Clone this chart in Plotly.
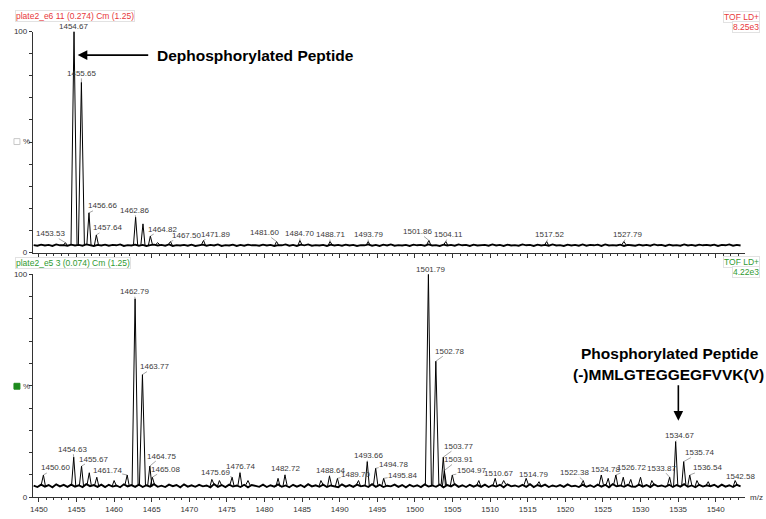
import plotly.graph_objects as go

# ---------------- data ----------------
# Centroided peaks (m/z, relative intensity %) for each acquisition
top_mz = [1453.53, 1454.67, 1455.65, 1456.66, 1457.64, 1462.86, 1463.84, 1464.82,
          1465.80, 1467.50, 1471.89, 1481.60, 1484.70, 1488.71, 1493.79, 1501.86,
          1504.11, 1517.52, 1527.79]
top_int = [4.5, 100, 77, 18, 8, 16, 13, 7.5,
           4.5, 5, 5.5, 5, 5.5, 5, 5, 5.5,
           5, 5, 5]
top_labeled = [1453.53, 1454.67, 1455.65, 1456.66, 1457.64, 1462.86, 1464.82, 1467.50,
               1471.89, 1481.60, 1484.70, 1488.71, 1493.79, 1501.86, 1504.11, 1517.52,
               1527.79]

bot_mz = [1450.60, 1454.63, 1455.67, 1456.70, 1457.70, 1460.00, 1461.74, 1462.79,
          1463.77, 1464.75, 1465.08, 1473.00, 1474.00, 1475.69, 1476.74, 1477.80,
          1481.80, 1482.72, 1487.50, 1488.64, 1489.70, 1492.50, 1493.66, 1494.78,
          1495.84, 1501.79, 1502.78, 1503.77, 1503.91, 1504.97, 1508.50, 1510.67,
          1511.80, 1514.79, 1516.50, 1522.38, 1524.78, 1525.70, 1526.72, 1527.70,
          1528.70, 1530.00, 1531.50, 1533.87, 1534.67, 1535.74, 1536.54, 1537.50,
          1539.00, 1542.58]
bot_int = [10, 18, 14, 11, 9, 7.5, 10, 89,
           55, 14, 9, 8, 7.5, 9, 11, 7.5,
           8.5, 10, 7.5, 9.5, 8.5, 7.5, 16, 13,
           8.5, 100, 61, 18, 12, 10, 7.5, 8.5,
           7.5, 8.5, 7, 7.5, 10, 8.5, 10, 9,
           8, 9, 7.5, 9, 25, 16, 10, 7.5,
           7, 7.5]
bot_labeled = [1450.60, 1454.63, 1455.67, 1461.74, 1462.79, 1463.77, 1464.75, 1465.08,
               1475.69, 1476.74, 1482.72, 1488.64, 1489.70, 1493.66, 1494.78, 1495.84,
               1501.79, 1502.78, 1503.77, 1503.91, 1504.97, 1510.67, 1514.79, 1522.38,
               1524.78, 1526.72, 1533.87, 1534.67, 1535.74, 1536.54, 1542.58]

# Baseline noise level (tenths of %), sampled every 0.5 m/z from 1449.3
top_base = [34, 31, 36, 32, 35, 30, 37, 33, 34, 31, 36, 32, 35, 31, 37, 33, 30, 35, 32, 36,
            31, 35, 33, 37, 30, 34, 32, 36, 31, 35, 30, 34, 36, 32, 35, 31, 37, 30, 34, 32,
            35, 31, 36, 30, 33, 36, 31, 35, 32, 37, 30, 34, 32, 36, 30, 35, 31, 36, 33, 34,
            31, 36, 32, 35, 30, 34, 33, 37, 31, 35, 30, 36, 33, 37, 31, 34, 32, 35, 30, 36,
            32, 35, 31, 36, 32, 35, 30, 34, 33, 37, 31, 35, 30, 36, 32, 37, 31, 34, 32, 35,
            30, 36, 33, 35, 31, 37, 32, 34, 30, 36, 32, 35, 31, 37, 33, 35, 30, 36, 32, 34,
            35, 31, 37, 32, 35, 30, 36, 32, 34, 31, 37, 33, 35, 30, 36, 32, 35, 31, 37, 32,
            34, 30, 36, 32, 35, 31, 37, 31, 35, 33, 36, 30, 37, 32, 34, 32, 36, 30, 35, 33,
            31, 36, 32, 35, 31, 37, 33, 35, 30, 36, 32, 34, 31, 37, 32, 35, 31, 36, 33, 35,
            32, 36, 30, 35, 33, 37, 31, 35, 32]
bot_base = [52, 46, 57, 48, 55, 45, 58, 49, 56, 47, 57, 48, 54, 46, 59, 50, 55, 47, 57, 46,
            56, 48, 53, 45, 58, 49, 55, 47, 57, 46, 54, 48, 59, 47, 52, 46, 57, 50, 55, 45,
            58, 48, 54, 47, 56, 49, 53, 45, 59, 47, 55, 46, 57, 48, 53, 46, 56, 45, 55, 50,
            47, 57, 46, 54, 48, 58, 47, 53, 45, 56, 48, 55, 46, 59, 49, 54, 47, 57, 46, 53,
            50, 45, 58, 48, 55, 47, 57, 49, 53, 46, 59, 47, 56, 46, 52, 49, 57, 47, 55, 45,
            56, 48, 54, 46, 58, 48, 53, 47, 57, 45, 55, 49, 59, 47, 54, 46, 56, 48, 55, 47,
            57, 46, 54, 48, 56, 45, 58, 49, 53, 47, 56, 47, 59, 46, 55, 49, 57, 46, 53, 48,
            55, 47, 58, 49, 52, 46, 57, 47, 54, 46, 57, 48, 56, 45, 59, 49, 53, 47, 56, 48,
            47, 57, 48, 55, 46, 58, 49, 53, 47, 56, 46, 55, 48, 59, 47, 53, 45, 56, 48, 54,
            50, 56, 46, 57, 48, 54, 46, 56, 49]

x_ticks = list(range(1450, 1545, 5))

# ---------------- label placement (pixel offsets of the text from the peak) ----------------
top_offsets = {
    1453.53: (-15, -9), 1454.67: (-1, -5), 1455.65: (0, -9), 1456.66: (14, -7),
    1457.64: (11, -7), 1462.86: (-1, -7), 1464.82: (12, -7), 1467.50: (16, -6),
    1471.89: (12, -6), 1481.60: (-12, -9), 1484.70: (0, -7), 1488.71: (0, -7),
    1493.79: (0, -7), 1501.86: (-11, -9), 1504.11: (3, -7), 1517.52: (3, -7),
    1527.79: (4, -7),
}
bot_offsets = {
    1450.60: (12, -7), 1454.63: (-1, -8), 1455.67: (12, -7), 1461.74: (-20, -4),
    1462.79: (-1, -7), 1463.77: (12, -8), 1464.75: (12, -10), 1465.08: (13, -8),
    1475.69: (-17, -5), 1476.74: (0, -6), 1482.72: (1, -6), 1488.64: (1, -6),
    1489.70: (18, -4), 1493.66: (1, -6), 1494.78: (18, -4), 1495.84: (19, -3),
    1501.79: (2, -5), 1502.78: (14, -10), 1503.77: (15, -11), 1503.91: (14, -11),
    1504.97: (19, -4), 1510.67: (3, -5), 1514.79: (7, -4), 1522.38: (-9, -8),
    1524.78: (4, -5), 1526.72: (16, -7), 1533.87: (-8, -9), 1534.67: (4, -6),
    1535.74: (16, -9), 1536.54: (18, -7), 1542.58: (5, -4),
}

W, H = 766, 519
FONT = "Liberation Sans, Arial, sans-serif"
RED = "#e8383a"
GREEN = "#2f9a2f"
AX = "#333333"

base_start, base_step = 1449.3, 0.5


def base_mz(values):
    return [base_start + base_step * i for i in range(len(values))]


def base_at(values, m):
    i = int(round((m - base_start) / base_step))
    i = max(0, min(len(values) - 1, i))
    return values[i] / 10.0


def peak_path(mz, inten, base):
    xs, ys = [], []
    for m, h in zip(mz, inten):
        hw = 0.4 if h > 30 else 0.28
        xs += [m - hw, m, m + hw, None]
        ys += [base_at(base, m - hw), h, base_at(base, m + hw), None]
    return xs, ys


fig = go.Figure()

for base, mz, inten, xa, ya in [(top_base, top_mz, top_int, "x", "y"),
                                (bot_base, bot_mz, bot_int, "x2", "y2")]:
    fig.add_trace(go.Scatter(x=base_mz(base), y=[v / 10.0 for v in base], mode="lines",
                             line=dict(color="black", width=1.9), xaxis=xa, yaxis=ya,
                             hoverinfo="skip", showlegend=False))
    px, py = peak_path(mz, inten, base)
    fig.add_trace(go.Scatter(x=px, y=py, mode="lines", line=dict(color="black", width=1),
                             xaxis=xa, yaxis=ya, hoverinfo="skip", showlegend=False))

annotations = []


def add_labels(mz, inten, labeled, offsets, xref, yref):
    lookup = dict(zip(mz, inten))
    for m in labeled:
        ax, ay = offsets[m]
        annotations.append(dict(
            x=m, y=lookup[m], xref=xref, yref=yref, text=f"{m:.2f}",
            showarrow=True, arrowhead=0, arrowwidth=0.6, arrowcolor="#666",
            ax=ax, ay=ay, standoff=0, borderpad=0,
            font=dict(family=FONT, size=8, color="#3a3a3a")))


add_labels(top_mz, top_int, top_labeled, top_offsets, "x", "y")
add_labels(bot_mz, bot_int, bot_labeled, bot_offsets, "x2", "y2")


def px_x(v):
    return v / W


def px_y(v):
    return 1 - v / H


# headers
for text, x, y, color, anchor in [
    ("plate2_e6 11 (0.274) Cm (1.25)", 12, 12, RED, "left"),
    ("TOF LD+", 760, 13, RED, "right"),
    ("8.25e3", 760, 23, RED, "right"),
    ("plate2_e5 3 (0.074) Cm (1.25)", 12, 264, GREEN, "left"),
    ("TOF LD+", 760, 263, GREEN, "right"),
    ("4.22e3", 760, 273, GREEN, "right"),
]:
    annotations.append(dict(
        x=px_x(x), y=px_y(y), xref="paper", yref="paper", text=text, showarrow=False,
        xanchor=anchor, yanchor="middle", font=dict(family=FONT, size=8.5, color=color),
        bgcolor="white", bordercolor="#e2e2e2", borderwidth=1, borderpad=0))

# % axis titles
for ypx in (140, 389):
    annotations.append(dict(x=px_x(24), y=px_y(ypx), xref="paper", yref="paper", text="%",
                            showarrow=False, xanchor="center", yanchor="middle",
                            font=dict(family=FONT, size=8, color=AX)))
# m/z unit
annotations.append(dict(x=px_x(748), y=px_y(502), xref="paper", yref="paper", text="m/z",
                        showarrow=False, xanchor="left", yanchor="middle",
                        font=dict(family=FONT, size=8, color=AX)))

# peptide call-outs
annotations.append(dict(x=px_x(153), y=px_y(52), xref="paper", yref="paper",
                        text="<b>Dephosphorylated Peptide</b>", showarrow=False,
                        xanchor="left", yanchor="middle",
                        font=dict(family=FONT, size=15.5, color="black")))
annotations.append(dict(x=px_x(75), y=px_y(52), xref="paper", yref="paper", text="",
                        showarrow=True, arrowhead=2, arrowsize=1.2, arrowwidth=1.6,
                        arrowcolor="black", ax=72, ay=0))
annotations.append(dict(x=px_x(670), y=px_y(356), xref="paper", yref="paper",
                        text="<b>Phosphorylated Peptide</b>", showarrow=False,
                        xanchor="center", yanchor="middle",
                        font=dict(family=FONT, size=15.5, color="black")))
annotations.append(dict(x=px_x(668), y=px_y(377), xref="paper", yref="paper",
                        text="<b>(-)MMLGTEGGEGFVVK(V)</b>", showarrow=False,
                        xanchor="center", yanchor="middle",
                        font=dict(family=FONT, size=15.5, color="black")))
annotations.append(dict(x=px_x(678), y=px_y(424), xref="paper", yref="paper", text="",
                        showarrow=True, arrowhead=2, arrowsize=1.2, arrowwidth=1.6,
                        arrowcolor="black", ax=0, ay=-37))

shapes = [
    dict(type="rect", xref="paper", yref="paper", x0=px_x(11), x1=px_x(17),
         y0=px_y(143), y1=px_y(137), line=dict(color="#c8c8c8", width=1), fillcolor="white"),
    dict(type="rect", xref="paper", yref="paper", x0=px_x(11), x1=px_x(17),
         y0=px_y(392), y1=px_y(386), line=dict(color="#1d8a1d", width=1), fillcolor="#1d8a1d"),
]

x_dom = [30 / W, 745 / W]
x_common = dict(range=[1449.2, 1543.9], domain=x_dom, showline=True, linecolor=AX, linewidth=1,
                ticks="outside", ticklen=4, tickcolor=AX, tickwidth=1, tickmode="array",
                tickvals=x_ticks, showgrid=False, zeroline=False,
                tickfont=dict(family=FONT, size=8, color=AX),
                minor=dict(tick0=1450, dtick=1, ticks="outside", ticklen=2, tickcolor=AX,
                           showgrid=False))
y_common = dict(range=[0, 100], showline=True, linecolor=AX, linewidth=1, ticks="outside",
                ticklen=3, tickcolor=AX, tickmode="array", tickvals=list(range(0, 101, 10)),
                ticktext=["0"] + [""] * 9 + ["100"], showgrid=False, zeroline=False,
                tickfont=dict(family=FONT, size=8, color=AX))

fig.update_layout(
    width=W, height=H, autosize=False,
    margin=dict(l=0, r=0, t=0, b=0),
    paper_bgcolor="white", plot_bgcolor="white",
    showlegend=False,
    xaxis=dict(x_common, anchor="y", showticklabels=False),
    yaxis=dict(y_common, domain=[(H - 253) / H, (H - 28) / H], anchor="x"),
    xaxis2=dict(x_common, anchor="y2"),
    yaxis2=dict(y_common, domain=[(H - 502) / H, (H - 275) / H], anchor="x2"),
    annotations=annotations,
    shapes=shapes,
)

fig.write_html("out.html")
